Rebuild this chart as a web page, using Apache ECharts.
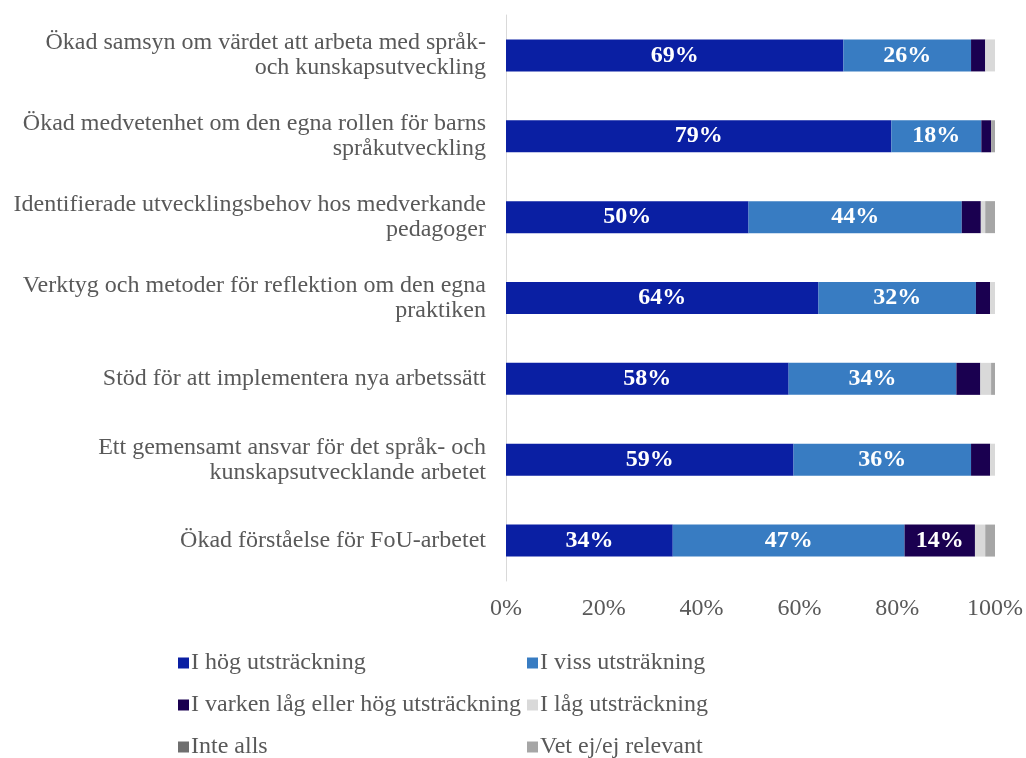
<!DOCTYPE html>
<html>
<head>
<meta charset="utf-8">
<script src="https://cdn.jsdelivr.net/npm/echarts@6/dist/echarts.min.js"></script>
<style>
  html, body { margin: 0; padding: 0; background: #fff; }
  #chart { width: 1026px; height: 758px; }
</style>
</head>
<body>
<div id="chart"></div>
<script>
// Survey results - stacked 100% bars

const categories = [
  'Ökad samsyn om värdet att arbeta med språk-\noch kunskapsutveckling',
  'Ökad medvetenhet om den egna rollen för barns\nspråkutveckling',
  'Identifierade utvecklingsbehov hos medverkande\npedagoger',
  'Verktyg och metoder för reflektion om den egna\npraktiken',
  'Stöd för att implementera nya arbetssätt',
  'Ett gemensamt ansvar för det språk- och\nkunskapsutvecklande arbetet',
  'Ökad förståelse för FoU-arbetet'
];

const seriesNames = [
  'I hög utsträckning',
  'I viss utsträkning',
  'I varken låg eller hög utsträckning',
  'I låg utsträckning',
  'Inte alls',
  'Vet ej/ej relevant'
];

const hog    = [69.0, 78.8, 49.6, 63.9, 57.8, 58.8, 34.1];
const viss   = [26.1, 18.4, 43.6, 32.2, 34.3, 36.3, 47.4];
const varken = [2.9, 2.0, 3.9, 2.9, 4.9, 3.9, 14.4];
const lag    = [2.0, 0.0, 0.9, 1.0, 2.2, 1.0, 2.1];
const inte   = [0, 0, 0, 0, 0, 0, 0];
const vetej  = [0.0, 0.8, 2.0, 0.0, 0.8, 0.0, 2.0];

const xTicks = [0, 20, 40, 60, 80, 100];

const COLORS = ['#0a1fa3', '#387cc2', '#1a0050', '#d9d9d9', '#6f6f6f', '#a6a6a6'];
const FONT = '"Liberation Serif", "Times New Roman", serif';
const GRAY = '#595959';

const values = [hog, viss, varken, lag, inte, vetej];

const chart = echarts.init(document.getElementById('chart'));

const series = seriesNames.map((name, i) => ({
  name,
  type: 'bar',
  stack: 'total',
  barWidth: 32,
  data: values[i],
  itemStyle: { color: COLORS[i] },
  label: {
    show: i < 3,
    position: 'inside',
    color: '#fff',
    fontFamily: FONT,
    fontWeight: 'bold',
    fontSize: 24,
    formatter: p => (p.value >= 10 ? Math.round(p.value) + '%' : '')
  }
}));

// legend laid out as 3 rows x 2 columns, one entry per legend box
const legendCols = [178, 527];
const legendRows = [651, 693, 735];
const legends = seriesNames.map((name, i) => ({
  data: [name],
  left: legendCols[i % 2],
  top: legendRows[Math.floor(i / 2)],
  padding: 0,
  itemWidth: 11,
  itemHeight: 11,
  icon: 'rect',
  textStyle: { color: GRAY, fontSize: 24, lineHeight: 24, fontFamily: FONT, padding: [0, 0, 0, -3] }
}));

chart.setOption({
  animation: false,
  textStyle: { fontFamily: FONT },
  grid: { left: 506, right: 30, top: 15, bottom: 177, containLabel: false },
  xAxis: {
    type: 'value',
    min: 0,
    max: 100,
    interval: 20,
    axisLine: { show: false },
    axisTick: { show: false },
    splitLine: { show: false },
    axisLabel: {
      color: GRAY,
      fontSize: 24,
      fontFamily: FONT,
      margin: 16,
      formatter: v => (xTicks.includes(v) ? v + '%' : '')
    }
  },
  yAxis: {
    type: 'category',
    inverse: true,
    data: categories,
    axisLine: { show: true, lineStyle: { color: '#d9d9d9', width: 1 } },
    axisTick: { show: false },
    axisLabel: {
      color: GRAY,
      fontSize: 24,
      fontFamily: FONT,
      lineHeight: 25,
      margin: 20,
      align: 'right'
    }
  },
  legend: legends,
  series
});
</script>
</body>
</html>
